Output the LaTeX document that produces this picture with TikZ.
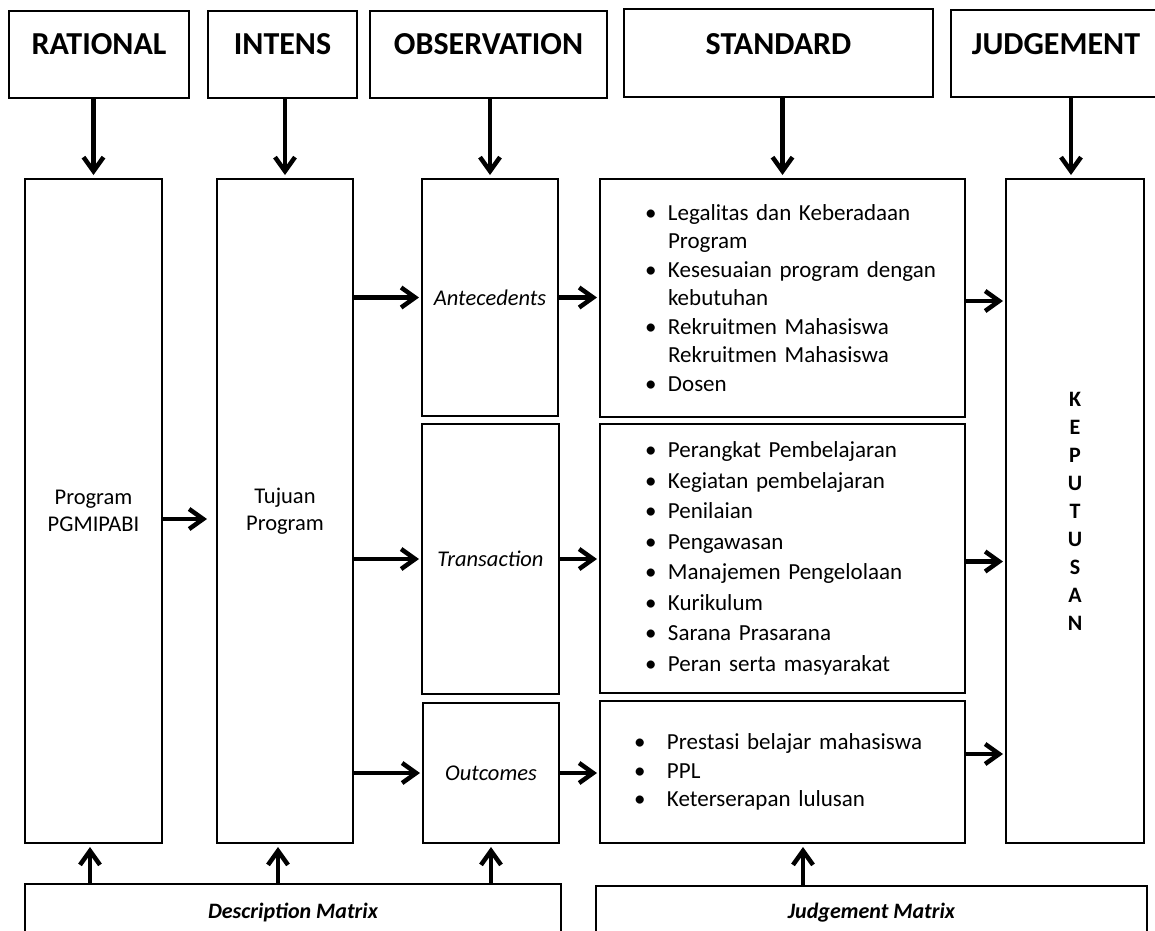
\documentclass[tikz,border=0pt]{standalone}
\usepackage{fontspec}
\setmainfont{Carlito}
\usetikzlibrary{arrows.meta,calc}
\newcommand{\mybul}[1][23pt]{\makebox[#1][l]{\textbullet}}
\tikzset{
  box/.style={draw, line width=2pt, inner sep=0pt, anchor=north west},
  hdr/.style={box, font=\fontsize{32}{38}\selectfont\bfseries, text height=43pt, text depth=44pt},
  lbl/.style={box, align=center, font=\fontsize{22.5}{27}\selectfont},
  ilbl/.style={box, font=\fontsize{22.5}{27}\selectfont\itshape},
  lst/.style={box, align=left, inner xsep=45pt, text width=275pt, font=\fontsize{23}{28.5}\selectfont},
  mtx/.style={box, font=\fontsize{22}{26}\selectfont\bfseries\itshape, text height=34pt, text depth=80pt},
  arr/.style={line width=4.5pt, -{Straight Barb[length=14pt,width=20pt]}, shorten >=2pt},
}
\begin{document}
\begin{tikzpicture}[x=1pt,y=-1pt]
\useasboundingbox (0,0) rectangle (1155,930);
\clip (0,0) rectangle (1155,930);
% headers
\node[hdr, minimum width=180pt] (rational) at (8,10) {RATIONAL};
\node[hdr, minimum width=149pt] (intens) at (207,10) {INTENS};
\node[hdr, minimum width=237pt] (obs) at (369,10) {OBSERVATION};
\node[hdr, minimum width=309pt, text height=45pt, text depth=43pt] (standard) at (623,8) {STANDARD};
\node[hdr, minimum width=210pt, text height=44pt, text depth=43pt] (judgement) at (950,9) {JUDGEMENT};
% columns
\node[lbl, minimum width=137pt, minimum height=664pt] (program) at (24,178) {Program\\PGMIPABI};
\node[lbl, minimum width=136pt, minimum height=664pt] (tujuan) at (216,178) {Tujuan\\Program};
\node[ilbl, minimum width=136pt, minimum height=237pt] (ant) at (421,178) {Antecedents};
\node[ilbl, minimum width=137pt, minimum height=270pt] (trans) at (421,423) {Transaction};
\node[ilbl, minimum width=136pt, minimum height=140pt] (out) at (422,702) {Outcomes};
\node[lst, minimum height=238pt] (std1) at (599,178) {%
\mbox{\mybul Legalitas dan Keberadaan}\\
\mbox{\hspace*{23pt}Program}\\
\mbox{\mybul Kesesuaian program dengan}\\
\mbox{\hspace*{23pt}kebutuhan}\\
\mbox{\mybul Rekruitmen Mahasiswa}\\
\mbox{\hspace*{23pt}Rekruitmen Mahasiswa}\\
\mbox{\mybul Dosen}};
\node[lst, minimum height=269pt, font=\fontsize{23}{30.5}\selectfont] (std2) at (599,423) {%
\mbox{\mybul Perangkat Pembelajaran}\\
\mbox{\mybul Kegiatan pembelajaran}\\
\mbox{\mybul Penilaian}\\
\mbox{\mybul Pengawasan}\\
\mbox{\mybul Manajemen Pengelolaan}\\
\mbox{\mybul Kurikulum}\\
\mbox{\mybul Sarana Prasarana}\\
\mbox{\mybul Peran serta masyarakat}};
\node[lst, minimum height=142pt, inner xsep=34pt, text width=297pt] (std3) at (599,700) {%
\mbox{\mybul[33pt]Prestasi belajar mahasiswa}\\
\mbox{\mybul[33pt]PPL}\\
\mbox{\mybul[33pt]Keterserapan lulusan}};
\node[box, align=center, minimum width=138pt, minimum height=664pt, font=\fontsize{22}{28}\selectfont\bfseries] (kep) at (1005,178) {K\\E\\P\\U\\T\\U\\S\\A\\N};
% matrices
\node[mtx, minimum width=536pt] (desc) at (24,883) {Description Matrix};
\node[mtx, minimum width=551pt, text height=32pt] (jm) at (595,885) {Judgement Matrix};
% down arrows
\draw[arr, shorten >=3pt] (rational.south -| program.north) -- (program.north);
\draw[arr, shorten >=3pt] (intens.south -| tujuan.north) -- (tujuan.north);
\draw[arr, shorten >=3pt] (obs.south -| ant.north) -- (ant.north);
\draw[arr, shorten >=3pt] (standard.south -| std1.north) -- (std1.north);
\draw[arr, shorten >=3pt] ([xshift=-4pt]judgement.south -| kep.north) -- ([xshift=-4pt]kep.north);
% horizontal arrows
\draw[arr, shorten >=9pt] ([yshift=-8pt]program.east) -- ([yshift=-8pt]program.east -| tujuan.west);
\draw[arr] (tujuan.east |- ant.west) -- (ant.west);
\draw[arr] (tujuan.east |- trans.west) -- (trans.west);
\draw[arr] (tujuan.east |- out.west) -- (out.west);
\draw[arr] (ant.east) -- (ant.east -| std1.west);
\draw[arr] (trans.east) -- (trans.east -| std2.west);
\draw[arr] (out.east) -- (out.east -| std3.west);
\draw[arr] ([yshift=-3pt]std1.east) -- ([yshift=-3pt]std1.east -| kep.west);
\draw[arr] ([yshift=-3pt]std2.east) -- ([yshift=-3pt]std2.east -| kep.west);
\draw[arr] ([yshift=18pt]std3.east) -- ([yshift=18pt]std3.east -| kep.west);
% up arrows
\draw[arr, shorten >=3pt] ([xshift=-3.5pt]program.south |- desc.north) -- ([xshift=-3.5pt]program.south);
\draw[arr, shorten >=3pt] ([xshift=-7pt]tujuan.south |- desc.north) -- ([xshift=-7pt]tujuan.south);
\draw[arr, shorten >=3pt] (out.south |- desc.north) -- (out.south);
\draw[arr, shorten >=3pt] ([xshift=20.5pt]std3.south |- jm.north) -- ([xshift=20.5pt]std3.south);
\end{tikzpicture}
\end{document}
